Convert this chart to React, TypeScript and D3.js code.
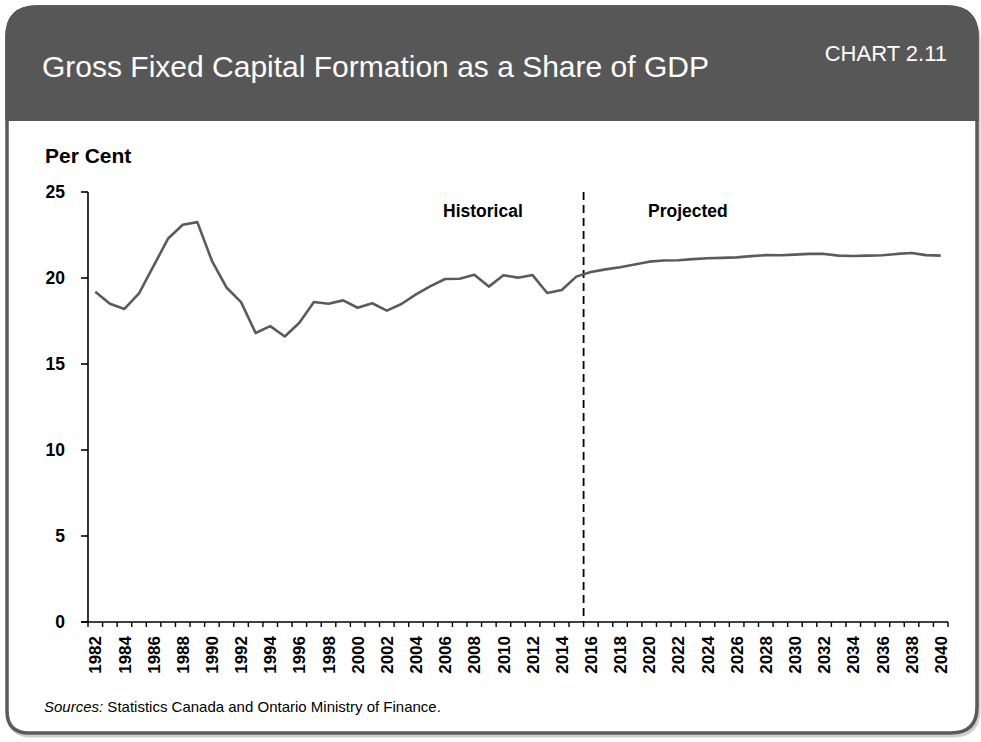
import React from "react";
import * as d3 from "d3";

const years: number[] = d3.range(1982, 2041);
const shareOfGDP: number[] = [
  19.2, 18.5, 18.2, 19.1, 20.7, 22.3, 23.1, 23.25, 21.0, 19.45,
  18.6, 16.8, 17.2, 16.6, 17.4, 18.6, 18.5, 18.7, 18.27, 18.53,
  18.1, 18.49, 19.05, 19.53, 19.94, 19.96, 20.19, 19.5, 20.16, 20.02,
  20.17, 19.13, 19.3, 20.08, 20.35, 20.5, 20.62, 20.78, 20.95, 21.02,
  21.03, 21.1, 21.15, 21.17, 21.2, 21.27, 21.33, 21.32, 21.36, 21.4,
  21.4, 21.3, 21.28, 21.3, 21.32, 21.4, 21.45, 21.33, 21.3,
];
const yTicks: number[] = [0, 5, 10, 15, 20, 25];
const xLabelYears: number[] = d3.range(1982, 2041, 2);
const splitYear = 2016;

const TITLE = "Gross Fixed Capital Formation as a Share of GDP";
const CHART_NO = "CHART 2.11";
const Y_LABEL = "Per Cent";
const FONT = "'Liberation Sans', Arial, sans-serif";

export default function App() {
  const W = 981, H = 742;
  const x = d3.scaleBand<number>().domain(years).range([88, 948]).paddingInner(0).paddingOuter(0);
  const y = d3.scaleLinear().domain([0, 25]).range([622, 192]);
  const cx = (yr: number) => (x(yr) as number) + x.bandwidth() / 2;
  const line = d3.line<number>().x((_, i) => cx(years[i])).y((d) => y(d));
  const boundaries = years.map((yr) => x(yr) as number).concat([948]);
  const splitX = x(splitYear) as number;

  // frame path (rounded corners of different radii)
  const L = 7, T = 7, R = 977, B = 733;
  const rTL = 30, rTR = 30, rBR = 26, rBL = 22;
  const frame = `M${L},${T + rTL} Q${L},${T} ${L + rTL},${T} L${R - rTR},${T} Q${R},${T} ${R},${T + rTR} L${R},${B - rBR} Q${R},${B} ${R - rBR},${B} L${L + rBL},${B} Q${L},${B} ${L},${B - rBL} Z`;
  const headerB = 121;

  return (
    <svg width={W} height={H} style={{ position: "absolute", left: 0, top: 0, background: "#fff" }} fontFamily={FONT}>
      <defs>
        <clipPath id="hdr">
          <rect x={0} y={0} width={W} height={headerB} />
        </clipPath>
      </defs>
      {/* shadow */}
      <path d={frame} transform="translate(2,3)" fill="none" stroke="#cfcfcf" strokeWidth={3} />
      <path d={frame} fill="#fff" stroke="#5a5a5a" strokeWidth={3.5} />
      <path d={frame} fill="#575757" clipPath="url(#hdr)" stroke="#575757" strokeWidth={3.5} />

      <text x={42} y={77} fill="#fff" fontSize={30}>{TITLE}</text>
      <text x={947} y={61} fill="#fff" fontSize={22} textAnchor="end">{CHART_NO}</text>

      <text x={45} y={163} fontSize={21} fontWeight="bold" fill="#000">{Y_LABEL}</text>

      {/* y axis */}
      <line x1={88} x2={88} y1={y(25)} y2={y(0)} stroke="#000" strokeWidth={1.6} />
      {yTicks.map((t) => (
        <g key={t}>
          <line x1={81} x2={88} y1={y(t)} y2={y(t)} stroke="#000" strokeWidth={1.6} />
          <text x={65} y={y(t)} dy="0.36em" textAnchor="end" fontSize={17.5} fontWeight="bold">{t}</text>
        </g>
      ))}

      {/* x axis */}
      <line x1={81} x2={948} y1={y(0)} y2={y(0)} stroke="#000" strokeWidth={1.6} />
      {boundaries.map((b, i) => (
        <line key={i} x1={b} x2={b} y1={y(0)} y2={y(0) + 5} stroke="#000" strokeWidth={1.4} />
      ))}
      {xLabelYears.map((yr) => (
        <text key={yr} transform={`translate(${cx(yr)},636) rotate(-90)`} textAnchor="end" dy="0.36em" fontSize={17} fontWeight="bold">{yr}</text>
      ))}

      {/* split */}
      <line x1={splitX} x2={splitX} y1={y(25)} y2={y(0)} stroke="#000" strokeWidth={1.8} strokeDasharray="8,5" />
      <text x={443} y={217} fontSize={17.5} fontWeight="bold">Historical</text>
      <text x={648} y={217} fontSize={17.5} fontWeight="bold">Projected</text>

      <path d={line(shareOfGDP) as string} fill="none" stroke="#5b5b5b" strokeWidth={2.6} strokeLinejoin="round" />

      <text x={44} y={712} fontSize={15}>
        <tspan fontStyle="italic">Sources:</tspan> Statistics Canada and Ontario Ministry of Finance.
      </text>
    </svg>
  );
}
